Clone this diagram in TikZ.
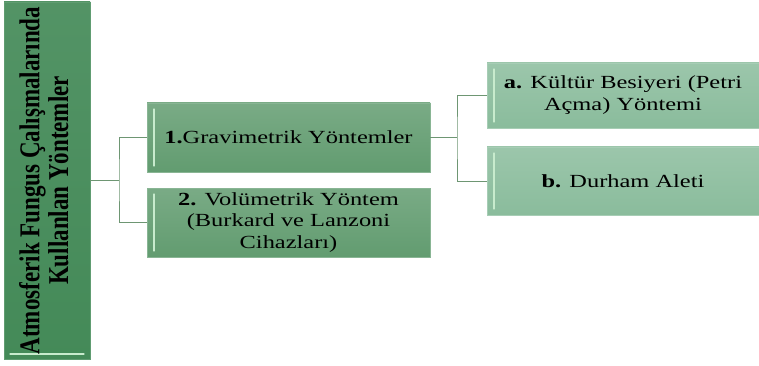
\documentclass[tikz,border=0pt]{standalone}
\usepackage{fontspec}
\setmainfont{Liberation Serif}
\newfontfamily\boxfont[FakeStretch=1.32]{Liberation Serif}
\definecolor{rootfill}{RGB}{68,138,88}
\definecolor{midfill}{RGB}{98,156,112}
\definecolor{lightfill}{RGB}{138,188,156}
\definecolor{connc}{RGB}{110,150,115}
\definecolor{hilite}{RGB}{200,235,205}
\begin{document}
\begin{tikzpicture}[x=1pt,y=-1pt,
  conn/.style={draw=connc, line width=0.9pt},
  vhl/.style={path picture={\draw[hilite,line width=1.3pt,line cap=round]
      ([xshift=7pt,yshift=-6pt]path picture bounding box.north west) --
      ([xshift=7pt,yshift=6pt]path picture bounding box.south west);}},
  rootbox/.style={draw=rootfill!85!white, line width=0.8pt, top color=rootfill!92!white, bottom color=rootfill,
      minimum width=86pt, minimum height=357pt, inner sep=0pt,
      path picture={\draw[hilite,line width=1.3pt,line cap=round]
      ([xshift=6pt,yshift=5pt]path picture bounding box.south west) --
      ([xshift=-6pt,yshift=5pt]path picture bounding box.south east);}},
  midbox/.style={draw=midfill!75!white, line width=0.8pt, top color=midfill!85!white, bottom color=midfill,
      minimum width=283pt, minimum height=69pt, align=center, font=\boxfont\fontsize{18.5}{21.5}\selectfont, vhl, inner sep=0pt},
  lightbox/.style={draw=lightfill!75!white, line width=0.8pt, top color=lightfill!85!white, bottom color=lightfill,
      minimum width=272pt, align=center, font=\boxfont\fontsize{18.5}{22}\selectfont, vhl, inner sep=0pt}
]
\useasboundingbox (0,0) rectangle (759,366);
\node[rootbox] (root) at (47,180.5) {};
\node[rotate=90, inner sep=0pt] (roott) at ([xshift=1pt]root.center)
  {\scalebox{1}[1.25]{\bfseries\fontsize{23}{23}\selectfont
   \begin{tabular}{@{}c@{}}Atmosferik Fungus Çalışmalarında\\Kullanlan Yöntemler\end{tabular}}};
\node[midbox] (b1) at (288.5,137.5) {\textbf{1.}Gravimetrik Yöntemler};
\node[midbox] (b2) at (288.5,222.5) {\textbf{2.} Volümetrik Yöntem\\(Burkard ve Lanzoni\\Cihazları)};
\node[lightbox, minimum height=65pt] (ba) at (623,95.5) {\textbf{a.} Kültür Besiyeri (Petri\\Açma) Yöntemi};
\node[lightbox, minimum height=68pt] (bb) at (623,181) {\textbf{b.} Durham Aleti};
\coordinate (j1) at (119,180.5);
\coordinate (j2) at (457,137.5);
\draw[conn] (root.east) -- (j1);
\draw[conn] (b1.west) -| (j1) |- (b2.west);
\draw[conn] (b1.east) -- (j2);
\draw[conn] (ba.west) -| (j2) |- (bb.west);
\end{tikzpicture}
\end{document}
